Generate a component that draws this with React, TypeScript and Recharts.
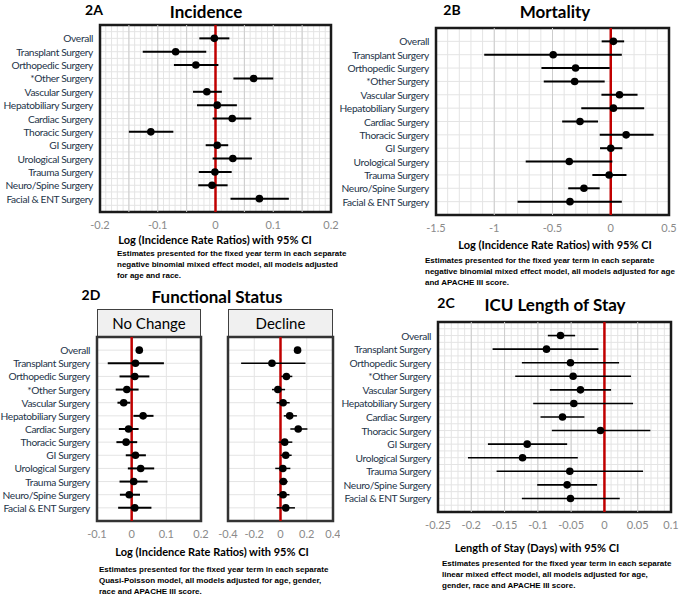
import React from "react";
import {
  ScatterChart,
  Scatter,
  XAxis,
  YAxis,
  CartesianGrid,
  ErrorBar,
  ReferenceLine,
  ReferenceArea,
} from "recharts";

const FONT = "Lato, 'Open Sans', sans-serif";
const NOTE_FONT = "'Liberation Sans', Arial, sans-serif";

const categories = [
  "Overall",
  "Transplant Surgery",
  "Orthopedic Surgery",
  "*Other Surgery",
  "Vascular Surgery",
  "Hepatobiliary Surgery",
  "Cardiac Surgery",
  "Thoracic Surgery",
  "GI Surgery",
  "Urological Surgery",
  "Trauma Surgery",
  "Neuro/Spine Surgery",
  "Facial & ENT Surgery",
];

// 2A incidence
const incEst = [-0.002, -0.069, -0.034, 0.066, -0.015, 0.003, 0.029, -0.112, 0.003, 0.03, -0.001, -0.006, 0.076];
const incLo = [-0.028, -0.126, -0.072, 0.031, -0.039, -0.032, -0.005, -0.15, -0.017, -0.005, -0.029, -0.03, 0.026];
const incHi = [0.024, -0.016, 0.005, 0.1, 0.011, 0.037, 0.062, -0.073, 0.022, 0.063, 0.028, 0.021, 0.127];
const incTicks = [-0.2, -0.1, 0, 0.1, 0.2];

// 2B mortality
const morEst = [0.023, -0.494, -0.302, -0.31, 0.075, 0.023, -0.264, 0.132, 0, -0.356, -0.014, -0.23, -0.35];
const morLo = [-0.078, -1.086, -0.595, -0.575, -0.08, -0.253, -0.417, -0.095, -0.092, -0.73, -0.158, -0.365, -0.8];
const morHi = [0.115, 0.095, -0.009, -0.052, 0.23, 0.287, -0.109, 0.368, 0.1, 0.014, 0.135, -0.095, 0.095];
const morTicks = [-1.5, -1, -0.5, 0, 0.5];

// 2C ICU length of stay
const losEst = [-0.066, -0.087, -0.051, -0.047, -0.036, -0.046, -0.063, -0.006, -0.116, -0.123, -0.052, -0.056, -0.051];
const losLo = [-0.085, -0.168, -0.124, -0.134, -0.082, -0.107, -0.096, -0.079, -0.175, -0.205, -0.162, -0.101, -0.124];
const losHi = [-0.044, -0.009, 0.022, 0.04, 0.01, 0.043, -0.03, 0.069, -0.056, -0.04, 0.058, -0.011, 0.023];
const losTicks = [-0.25, -0.2, -0.15, -0.1, -0.05, 0, 0.05, 0.1];

// 2D functional status, no change
const ncEst = [0.022, 0.011, 0.009, -0.014, -0.023, 0.033, -0.009, -0.016, 0.011, 0.026, 0.006, -0.007, 0.009];
const ncLo = [0.017, -0.069, -0.035, -0.046, -0.041, 0.005, -0.037, -0.044, -0.017, -0.011, -0.035, -0.034, -0.039];
const ncHi = [0.027, 0.093, 0.051, 0.02, -0.004, 0.063, 0.02, 0.016, 0.041, 0.065, 0.046, 0.024, 0.057];
const ncTicks = [-0.1, 0, 0.1, 0.2];

// 2D functional status, decline
const dcEst = [0.13, -0.065, 0.045, -0.02, 0.02, 0.07, 0.135, 0.032, 0.04, 0.018, 0.022, 0.02, 0.04];
const dcLo = [0.12, -0.3, 0.005, -0.065, -0.03, 0.025, 0.075, -0.015, 0, -0.04, -0.008, -0.025, -0.03];
const dcHi = [0.14, 0.19, 0.09, 0.035, 0.07, 0.125, 0.205, 0.09, 0.085, 0.075, 0.055, 0.068, 0.11];
const dcTicks = [-0.4, -0.2, 0, 0.2, 0.4];

function steps(from: number, to: number, step: number) {
  const out: number[] = [];
  for (let v = from; v <= to + step / 2; v += step) out.push(Math.round(v * 1000) / 1000);
  return out;
}

interface ForestProps {
  left: number;
  top: number;
  width: number;
  height: number;
  margin: { top: number; right: number; bottom: number; left: number };
  labelWidth: number;
  showLabels: boolean;
  domain: [number, number];
  labelTicks: number[];
  minorStep?: number;
  majors?: number[];
  est: number[];
  lo: number[];
  hi: number[];
  halfRows?: boolean;
  dotR: number;
  barW: number;
  border?: string;
}

function Forest(p: ForestProps) {
  const data = categories.map((c, i) => ({
    row: i + 1,
    name: c,
    est: p.est[i],
    err: [p.est[i] - p.lo[i], p.hi[i] - p.est[i]],
  }));
  const xTicks = p.minorStep ? steps(p.domain[0], p.domain[1], p.minorStep) : p.labelTicks;
  const yTicks = p.halfRows ? steps(0.5, 13.5, 0.5) : steps(1, 13, 1);
  const isLabel = (v: number) => p.labelTicks.some((t) => Math.abs(t - v) < 1e-6);

  // plain text ticks so long labels never wrap
  const xTick = (t: any) =>
    isLabel(t.payload.value) ? (
      <text
        x={t.x}
        y={t.y + 4}
        textAnchor="middle"
        dominantBaseline="central"
        fontSize={11}
        fill="#8a8a8a"
        fontFamily={FONT}
      >
        {String(t.payload.value)}
      </text>
    ) : (
      <g />
    );
  const yTick = (t: any) =>
    p.showLabels && Number.isInteger(t.payload.value) ? (
      <text
        x={t.x}
        y={t.y}
        textAnchor="end"
        dominantBaseline="central"
        fontSize={10.2}
        letterSpacing={-0.35}
        fill="#243449"
        fontFamily={FONT}
      >
        {categories[t.payload.value - 1]}
      </text>
    ) : (
      <g />
    );

  return (
    <div style={{ position: "absolute", left: p.left, top: p.top }}>
      <ScatterChart width={p.width} height={p.height} margin={p.margin}>
        <CartesianGrid stroke="#e4e4e4" strokeWidth={1} />
        {(p.majors || []).map((m) => (
          <ReferenceLine key={m} x={m} stroke="#cdcdcd" strokeWidth={1} />
        ))}
        <XAxis
          type="number"
          dataKey="est"
          domain={p.domain}
          ticks={xTicks}
          interval={0}
          allowDataOverflow
          axisLine={false}
          tickLine={false}
          tickSize={4}
          tickMargin={4}
          height={20}
          tick={xTick}
        />
        <YAxis
          type="number"
          dataKey="row"
          domain={[0, 14]}
          reversed
          ticks={yTicks}
          interval={0}
          width={p.labelWidth}
          axisLine={false}
          tickLine={false}
          tickSize={4}
          tickMargin={3}
          tick={yTick}
        />
        <ReferenceLine x={0} stroke="#c00000" strokeWidth={2.5} />
        <Scatter
          data={data}
          isAnimationActive={false}
          shape={(s: any) => <circle cx={s.cx} cy={s.cy} r={p.dotR} fill="#000" />}
        >
          <ErrorBar
            dataKey="err"
            direction="x"
            width={0}
            stroke="#000"
            strokeWidth={p.barW}
            isAnimationActive={false}
          />
        </Scatter>
        <ReferenceArea
          x1={p.domain[0]}
          x2={p.domain[1]}
          y1={0}
          y2={14}
          fill="none"
          fillOpacity={0}
          stroke={p.border || "#1a1a1a"}
          strokeWidth={2.5}
        />
      </ScatterChart>
    </div>
  );
}

function Txt({
  x,
  y,
  size,
  bold,
  children,
  color = "#000",
}: {
  x: number;
  y: number;
  size: number;
  bold?: boolean;
  children: React.ReactNode;
  color?: string;
}) {
  return (
    <div
      style={{
        position: "absolute",
        left: x - 150,
        top: y - size * 0.65,
        width: 300,
        textAlign: "center",
        fontSize: size,
        lineHeight: `${size * 1.3}px`,
        fontWeight: bold ? 700 : 400,
        fontFamily: FONT,
        color,
        whiteSpace: "nowrap",
      }}
    >
      {children}
    </div>
  );
}

function Note({ x, y, lines }: { x: number; y: number; lines: string[] }) {
  return (
    <div
      style={{
        position: "absolute",
        left: x,
        top: y,
        fontSize: 8,
        lineHeight: "11px",
        fontWeight: 700,
        fontFamily: NOTE_FONT,
        color: "#000",
        whiteSpace: "nowrap",
      }}
    >
      {lines.map((l) => (
        <div key={l}>{l}</div>
      ))}
    </div>
  );
}

function Header({ left, top, width, text }: { left: number; top: number; width: number; text: string }) {
  return (
    <div
      style={{
        position: "absolute",
        left,
        top,
        width,
        height: 28,
        boxSizing: "border-box",
        border: "1.5px solid #404040",
        borderBottom: "none",
        background: "#f0f0f0",
        textAlign: "center",
        fontFamily: FONT,
        fontSize: 15,
        lineHeight: "27px",
        color: "#000",
      }}
    >
      {text}
    </div>
  );
}

export default function App() {
  return (
    <div
      style={{
        position: "fixed",
        left: 0,
        top: 0,
        width: 681,
        height: 594,
        background: "#fff",
        overflow: "hidden",
      }}
    >
      {/* 2A */}
      <Forest
        left={0}
        top={0}
        width={340}
        height={240}
        margin={{ top: 25, right: 9, bottom: 8, left: 0 }}
        labelWidth={100}
        showLabels
        domain={[-0.2, 0.2]}
        labelTicks={incTicks}
        minorStep={0.01}
        majors={[-0.15, -0.1, -0.05, 0.05, 0.1, 0.15]}
        est={incEst}
        lo={incLo}
        hi={incHi}
        halfRows
        dotR={3.8}
        barW={2}
      />
      <Txt x={94} y={10} size={14} bold>2A</Txt>
      <Txt x={206} y={12} size={17} bold>Incidence</Txt>
      <Txt x={215} y={240} size={11} bold>Log (Incidence Rate Ratios) with 95% CI</Txt>
      <Note
        x={117}
        y={247.5}
        lines={[
          "Estimates presented for the fixed year term in each separate",
          "negative binomial mixed effect model, all models adjusted",
          "for age and race.",
        ]}
      />

      {/* 2B */}
      <Forest
        left={336}
        top={0}
        width={345}
        height={245}
        margin={{ top: 28, right: 12, bottom: 10, left: 0 }}
        labelWidth={100}
        showLabels
        domain={[-1.5, 0.5]}
        labelTicks={morTicks}
        minorStep={0.1}
        majors={[-1, -0.5]}
        est={morEst}
        lo={morLo}
        hi={morHi}
        dotR={3.8}
        barW={2}
      />
      <Txt x={452} y={10} size={14} bold>2B</Txt>
      <Txt x={555} y={12} size={17} bold>Mortality</Txt>
      <Txt x={555} y={245} size={11} bold>Log (Incidence Rate Ratios) with 95% CI</Txt>
      <Note
        x={425}
        y={254.5}
        lines={[
          "Estimates presented for the fixed year term in each separate",
          "negative binomial mixed effect model, all models adjusted for age",
          "and APACHE III score.",
        ]}
      />

      {/* 2D */}
      <Header left={97} top={309} width={104} text="No Change" />
      <Header left={228} top={309} width={105} text="Decline" />
      <Forest
        left={0}
        top={330}
        width={209}
        height={215}
        margin={{ top: 7, right: 8, bottom: 4, left: 0 }}
        labelWidth={97}
        showLabels
        domain={[-0.1, 0.2]}
        labelTicks={ncTicks}
        est={ncEst}
        lo={ncLo}
        hi={ncHi}
        dotR={3.8}
        barW={2}
        border="#333"
      />
      <Forest
        left={210}
        top={330}
        width={130}
        height={215}
        margin={{ top: 7, right: 7, bottom: 4, left: 18 }}
        labelWidth={0}
        showLabels={false}
        domain={[-0.4, 0.4]}
        labelTicks={dcTicks}
        est={dcEst}
        lo={dcLo}
        hi={dcHi}
        dotR={3.8}
        barW={1.5}
        border="#333"
      />
      <Txt x={91} y={295} size={14} bold>2D</Txt>
      <Txt x={217} y={297} size={17} bold>Functional Status</Txt>
      <Txt x={212} y={552} size={11} bold>Log (Incidence Rate Ratios) with 95% CI</Txt>
      <Note
        x={99}
        y={563.5}
        lines={[
          "Estimates presented for the fixed year term in each separate",
          "Quasi-Poisson model, all models adjusted for age, gender,",
          "race and APACHE III score.",
        ]}
      />

      {/* 2C */}
      <Forest
        left={340}
        top={300}
        width={341}
        height={235}
        margin={{ top: 22, right: 10, bottom: 3, left: 0 }}
        labelWidth={98}
        showLabels
        domain={[-0.25, 0.1]}
        labelTicks={losTicks}
        minorStep={0.01}
        majors={[-0.2, -0.15, -0.1, -0.05, 0.05]}
        est={losEst}
        lo={losLo}
        hi={losHi}
        halfRows
        dotR={3.8}
        barW={1.6}
      />
      <Txt x={446} y={303} size={14} bold>2C</Txt>
      <Txt x={555} y={305} size={17} bold>ICU Length of Stay</Txt>
      <Txt x={537} y={548} size={11} bold>Length of Stay (Days) with 95% CI</Txt>
      <Note
        x={442}
        y={557.5}
        lines={[
          "Estimates presented for the fixed year term in each separate",
          "linear mixed effect model, all models adjusted for age,",
          "gender, race and APACHE III score.",
        ]}
      />
    </div>
  );
}
